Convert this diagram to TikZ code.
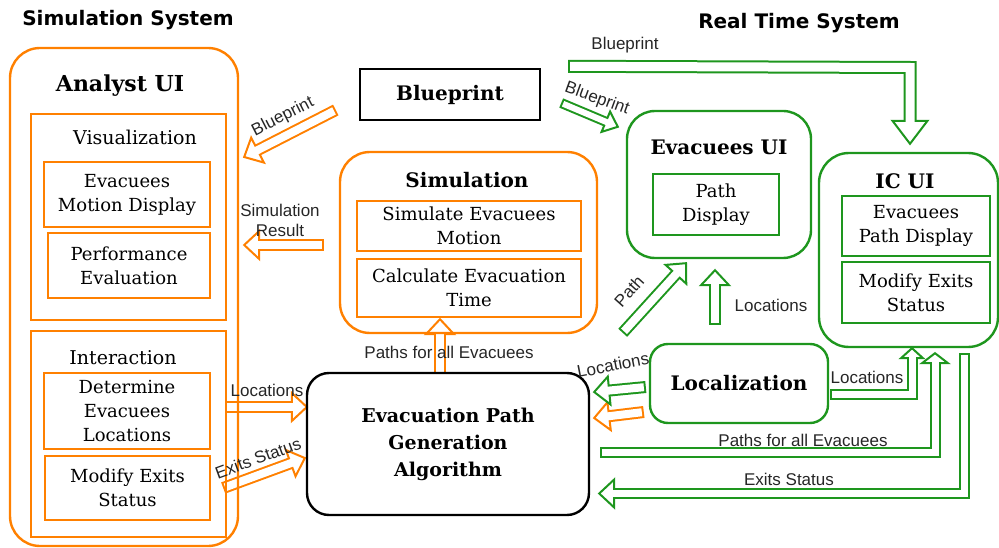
\documentclass[tikz,border=0pt]{standalone}
\usepackage{fontspec}
\setmainfont{DejaVu Serif}
\newfontfamily\lblfont{Liberation Sans}
\newfontfamily\headfont{DejaVu Sans}
\usepackage{tikz}
\usetikzlibrary{positioning,calc,backgrounds}

\definecolor{orng}{RGB}{255,128,0}
\definecolor{grn}{RGB}{30,150,30}
\newcommand{\boxfont}{\fontsize{18}{24}\selectfont}

% hollow block arrow: [keys]{path before last point}{last point}{tip}
\def\bkw{12pt}\def\bkhw{28pt}\def\bkhl{15pt}\def\bkc{orng}\def\bklw{2pt}
\tikzset{bk w/.store in=\bkw, bk hw/.store in=\bkhw, bk hl/.store in=\bkhl, bk c/.store in=\bkc}
\newcommand{\blockarrow}[4][]{%
  \begin{scope}[#1]
    \pgfmathsetlengthmacro\bkin{\bkw-2*\bklw}
    \pgfmathsetlengthmacro\bkhh{0.5*\bkhw}
    \coordinate (bkq) at #3;
    \coordinate (bkt) at #4;
    \coordinate (bkb) at ($(bkt)!\bkhl!(bkq)$);
    \draw[\bkc, line width=\bkw] #2 (bkq) -- (bkb);
    \filldraw[\bkc, fill=white, line width=\bklw] ($(bkb)!\bkhh!90:(bkt)$) -- (bkt) -- ($(bkb)!\bkhh!-90:(bkt)$) -- cycle;
    \draw[white, line width=\bkin, shorten <=\bklw, shorten >=-\bklw] #2 (bkq) -- (bkb);
  \end{scope}}

\begin{document}
\begin{tikzpicture}[x=1pt, y=-1pt,
    obox/.style={rectangle, draw=orng, line width=2.4pt, rounded corners=30pt},
    ibox/.style={rectangle, draw=orng, line width=2.4pt, align=center, font=\boxfont},
    gbox/.style={obox, draw=grn},
    gibox/.style={ibox, draw=grn},
    ttl/.style={font=\bfseries\fontsize{20}{24}\selectfont},
    sub/.style={font=\fontsize{19}{24}\selectfont},
    sys/.style={font=\headfont\bfseries\fontsize{20}{24}\selectfont},
    lbl/.style={font=\lblfont\fontsize{17}{20}\selectfont, align=center, inner sep=1pt, text=black!85},
    garrow/.style={bk c=grn}]

    \useasboundingbox (0,0) rectangle (999,548);

    \node [sys] (simsys) at (128,20) {Simulation System};
    \node [sys] (rtsys) at (799,23) {Real Time System};

    % simulation side
    \node [obox, minimum width=228pt, minimum height=498pt] (anaui) at (124,297) {};
    \node [ttl, font=\bfseries\fontsize{22}{26}\selectfont] (anattl) at (120,86) {Analyst UI};
    \node [ibox, minimum width=195pt, minimum height=206pt] (vis) at (128.5,217) {};
    \node [sub] (visttl) at (135,137) {Visualization};
    \node [ibox, minimum width=166pt, minimum height=65pt] (evmd) at (127,194.5) {Evacuees\\Motion Display};
    \node [ibox, minimum width=162pt, minimum height=65pt] (perf) at (129,265.5) {Performance\\Evaluation};
    \node [ibox, minimum width=195pt, minimum height=206pt] (inter) at (128.5,434) {};
    \node [sub] (interttl) at (123,358) {Interaction};
    \node [ibox, minimum width=166pt, minimum height=76pt] (detl) at (127,411) {Determine\\Evacuees\\Locations};
    \node [ibox, minimum width=165pt, minimum height=64pt] (modex) at (127.5,488) {Modify Exits\\Status};

    \node [draw, line width=2.4pt, ttl, minimum width=180pt, minimum height=51pt] (blue) at (450,94.5) {Blueprint};

    \node [obox, minimum width=257pt, minimum height=181pt] (simu) at (468.5,242.5) {};
    \node [ttl] (simuttl) at (467,180) {Simulation};
    \node [ibox, minimum width=224pt, minimum height=50pt] (simev) at (469,226) {Simulate Evacuees\\Motion};
    \node [ibox, minimum width=224pt, minimum height=58pt] (calc) at (469,288) {Calculate Evacuation\\Time};

    \node [draw, line width=2.4pt, rounded corners=22pt, minimum width=282pt, minimum height=142pt, align=center,
        font=\bfseries\fontsize{19}{27}\selectfont] (epga) at (448,444) {Evacuation Path\\Generation\\Algorithm};

    % real time side
    \node [gbox, minimum width=184pt, minimum height=147pt, rounded corners=28pt] (evui) at (719,184.5) {};
    \node [ttl] (evuittl) at (719,147) {Evacuees UI};
    \node [gibox, minimum width=126pt, minimum height=61pt] (pdisp) at (716,204.5) {Path\\Display};

    \node [gbox, minimum width=179pt, minimum height=194pt] (icui) at (908.5,250) {};
    \node [ttl] (icuittl) at (905,181) {IC UI};
    \node [gibox, minimum width=148pt, minimum height=60pt] (evpd) at (916,226) {Evacuees\\Path Display};
    \node [gibox, minimum width=148pt, minimum height=61pt] (modex2) at (916,292.5) {Modify Exits\\Status};

    \node [gbox, minimum width=178pt, minimum height=79pt, rounded corners=18pt, ttl] (loc) at (739,383.5) {Localization};

    % block arrows
    \begin{scope}[on background layer]
        \blockarrow{}{($(blue.west)+(-23,15.5)$)}{($(anaui.east)+(5,-140)$)}
        \blockarrow{}{($(simu.west)+(-15,2.5)$)}{($(anaui.east)+(5,-52)$)}
        \blockarrow{}{($(detl.east)+(14,-4)$)}{($(epga.west)+(1,-37)$)}
        \blockarrow{}{($(modex.east)+(12,0)$)}{($(epga.west)+(-1,14)$)}
        \blockarrow{}{($(epga.north)+(-8,2)$)}{($(calc.south)+(-29,1)$)}
        \blockarrow{}{($(loc.west)+(-5,28.5)$)}{($(epga.east)+(4,-26)$)}

        \blockarrow[garrow, bk w=10pt, bk hw=22pt, bk hl=13pt]{}{($(blue.east)+(20,8.5)$)}{($(evui.north west)+(-8,17)$)}
        \coordinate (bpt) at ($(icui.north)+(1.5,-8)$);
        \blockarrow[garrow, bk w=13pt, bk hw=35pt, bk hl=23pt]{($(blue.north east)+(27,-1.5)$) --}{(bpt |- 0,67.5)}{(bpt)}
        \blockarrow[garrow]{}{($(epga.north east)+(32.5,-39)$)}{($(evui.south)+(-33,4)$)}
        \blockarrow[garrow]{}{($(loc.north)+(-24,-18)$)}{($(evui.south)+(-4,11)$)}
        \blockarrow[garrow]{}{($(loc.west)+(-3,3.5)$)}{($(epga.east)+(4,-52)$)}
        \coordinate (lct) at ($(icui.south)+(3.5,0)$);
        \blockarrow[garrow, bk w=11pt, bk hw=22pt, bk hl=10pt]{($(loc.east)+(1,11)$) --}{(lct |- 0,394.5)}{(lct)}
        \coordinate (pat) at ($(icui.south)+(26.5,5)$);
        \blockarrow[garrow, bk w=11pt, bk hw=26pt, bk hl=10pt]{($(epga.east)+(10,8.5)$) --}{(pat |- 0,452.5)}{(pat)}
        \coordinate (ext) at ($(epga.east)+(9,49.5)$);
        \blockarrow[garrow, bk w=11pt]{($(icui.south)+(55.5,5)$) --}{(964,0 |- ext)}{(ext)}
    \end{scope}

    % arrow labels
    \node [lbl, rotate=27] (l1) at (283,117) {Blueprint};
    \node [lbl] (l2) at (280,220) {Simulation\\Result};
    \node [lbl] (l3) at (267,390) {Locations};
    \node [lbl, rotate=20] (l4) at (258,458) {Exits Status};
    \node [lbl] (l5) at (449,352) {Paths for all Evacuees};
    \node [lbl, rotate=-20] (l6) at (597,99) {Blueprint};
    \node [lbl] (l7) at (625,45) {Blueprint};
    \node [lbl, rotate=48] (l8) at (629,291) {Path};
    \node [lbl] (l9) at (771,305) {Locations};
    \node [lbl, rotate=11] (l10) at (613,365) {Locations};
    \node [lbl] (l11) at (867,377) {Locations};
    \node [lbl] (l12) at (803,440) {Paths for all Evacuees};
    \node [lbl] (l13) at (789,479) {Exits Status};
\end{tikzpicture}
\end{document}
